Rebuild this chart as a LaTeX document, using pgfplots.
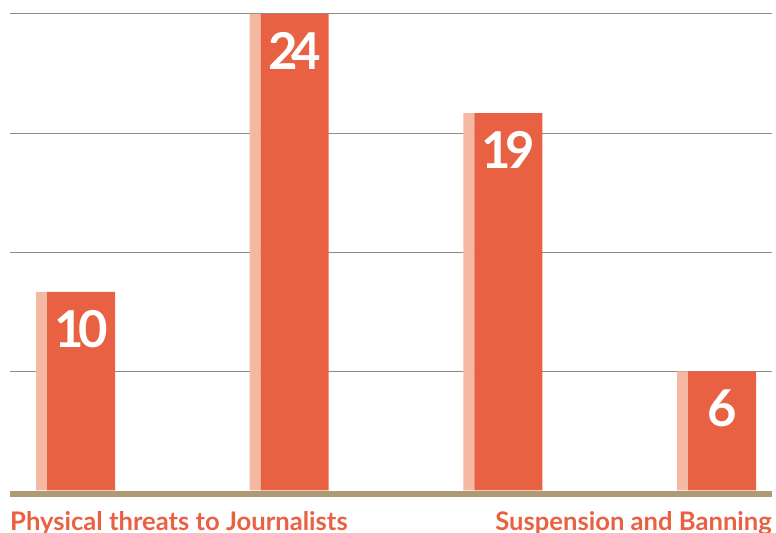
\documentclass[border=0pt]{standalone}
\usepackage{pgfplots}
\pgfplotsset{compat=1.18}
\usepackage{fontspec}
\setmainfont{Lato}
\definecolor{barD}{HTML}{E86142}
\definecolor{barL}{HTML}{F5B9A3}
\definecolor{baseC}{HTML}{AE9B75}
\definecolor{gridC}{HTML}{8C8C8C}
\begin{document}
\begin{tikzpicture}
\useasboundingbox (0,0) rectangle (776bp,533bp);
\begin{axis}[
  at={(10bp,35.55bp)}, anchor=south west,
  scale only axis, width=762bp, height=497.45bp,
  xmin=-0.3323, xmax=3.234, ymin=-0.35, ymax=24.698,
  axis line style={draw=none},
  major tick length=0pt,
  xtick=\empty,
  ytick={6,12,18,24}, yticklabels={},
  ymajorgrids, grid style={draw=gridC, line width=1bp},
  extra y ticks={-0.16}, extra y tick labels={},
  extra y tick style={major grid style={draw=baseC, line width=6bp}},
  /pgf/number format/assume math mode=true,
  clip=false,
]
\addplot[ybar, fill=barL, draw=none, bar width=11bp, bar shift=-39.5bp]
  coordinates {(0,10) (1,24) (2,19) (3,6)};
\addplot[ybar, fill=barD, draw=none, bar width=68bp, bar shift=0pt,
  nodes near coords,
  nodes near coords style={font=\fontsize{51}{51}\selectfont\bfseries\addfontfeature{LetterSpace=-12},
    text=white, anchor=center, yshift=-37bp}]
  coordinates {(0,10) (1,24) (2,19) (3,6)};
\node[anchor=base west, inner sep=0pt, text=barD, font=\fontsize{25.7}{25.7}\selectfont\bfseries]
  at ([yshift=-32.55bp]rel axis cs:0,0) {Physical threats to Journalists};
\node[anchor=base east, inner sep=0pt, text=barD, font=\fontsize{25.7}{25.7}\selectfont\bfseries]
  at ([yshift=-32.55bp]rel axis cs:1,0) {Suspension and Banning};
\end{axis}
\end{tikzpicture}
\end{document}
